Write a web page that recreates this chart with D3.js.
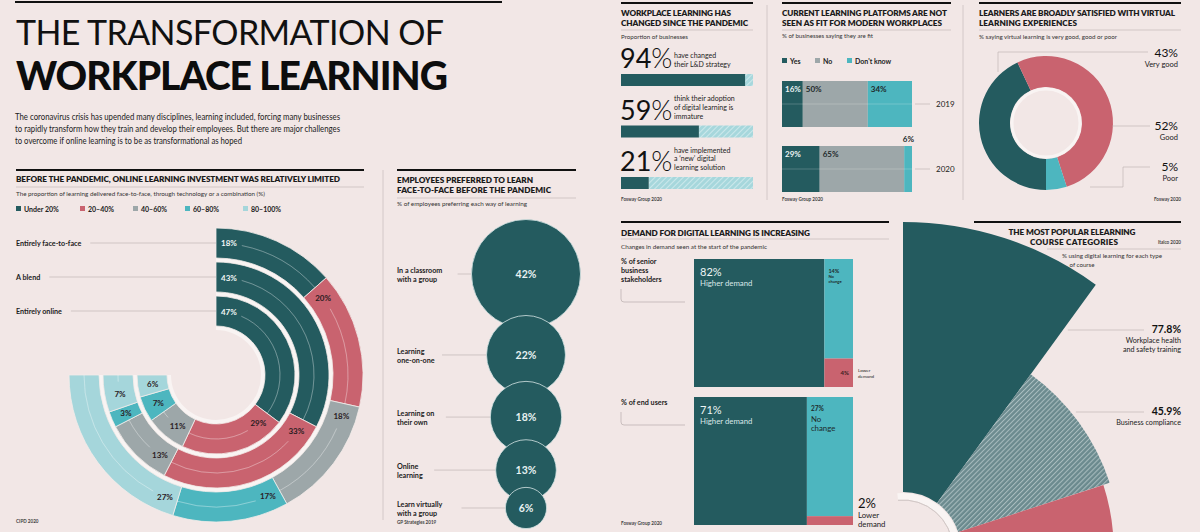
<!DOCTYPE html>
<html>
<head>
<meta charset="utf-8">
<script src="https://cdn.jsdelivr.net/npm/d3@7"></script>
<style>
  body { margin: 0; background: #f2e7e6; }
</style>
</head>
<body>
<div id="chart"></div>
<script>
const ringRows = ["Entirely face-to-face", "A blend", "Entirely online"];
const bandLabels = ["Under 20%", "20–40%", "40–60%", "60–80%", "80–100%"];
const faceToFace = [18, 20, 18, 17, 27];
const blend = [43, 33, 13, 3, 7];
const online = [47, 29, 11, 7, 6];

const prefLabels = [["In a classroom", "with a group"], ["Learning", "one-on-one"], ["Learning on", "their own"], ["Online", "learning"], ["Learn virtually", "with a group"]];
const prefValues = [42, 22, 18, 13, 6];

const changedValues = [94, 59, 21];
const changedTexts = [["have changed", "their L&D strategy"], ["think their adoption", "of digital learning is", "immature"], ["have implemented", "a ‘new’ digital", "learning solution"]];

const fitYears = ["2019", "2020"];
const fitKeys = ["Yes", "No", "Don't know"];
const fitYes = [16, 29];
const fitNo = [50, 65];
const fitDontKnow = [34, 6];

const satLabels = ["Very good", "Good", "Poor"];
const satValues = [43, 52, 5];

const demandGroups = [["% of senior", "business", "stakeholders"], ["% of end users"]];
const higherDemand = [82, 71];
const noChange = [14, 27];
const lowerDemand = [4, 2];

const courseLabels = [["Workplace health", "and safety training"], ["Business compliance"], []];
const courseValues = [77.8, 45.9, 44];

// ---- setup ----
const C = {dark: "#245b5f", pink: "#c9636f", grey: "#9da7a9", teal: "#4db6bf", light: "#a5d6db",
           bg: "#f2e7e6", ink: "#1b1b1b", rule: "#cbc1c0", gap: "#f9f4f3"};
const W = 1200, H = 532;

const svg = d3.select("#chart").append("svg")
    .attr("width", W).attr("height", H)
    .style("font-family", "Lato, 'Open Sans', sans-serif");
svg.append("rect").attr("width", W).attr("height", H).attr("fill", C.bg);

const defs = svg.append("defs");
function hatch(id, base, line, size) {
    const p = defs.append("pattern").attr("id", id)
        .attr("patternUnits", "userSpaceOnUse")
        .attr("width", size).attr("height", size)
        .attr("patternTransform", "rotate(45)");
    p.append("rect").attr("width", size).attr("height", size).attr("fill", base);
    p.append("line").attr("x1", 0.5).attr("y1", 0).attr("x2", 0.5).attr("y2", size)
        .attr("stroke", line).attr("stroke-width", 1.1);
}
hatch("hatchBlue", "#a6d7dc", "#cbe8eb", 4);
hatch("hatchGrey", "#6b8a8e", "#a9bdbf", 3.5);

function txt(x, y, s, o = {}) {
    const t = svg.append("text").attr("x", x).attr("y", y).text(s)
        .attr("font-size", o.size || 8)
        .attr("font-weight", o.weight || 400)
        .attr("fill", o.fill || C.ink)
        .attr("text-anchor", o.anchor || "start");
    if (o.ls) t.attr("letter-spacing", o.ls);
    if (o.len) t.attr("textLength", o.len).attr("lengthAdjust", o.adjust || "spacingAndGlyphs");
    return t;
}
function hline(x1, x2, y, w, col) {
    svg.append("line").attr("x1", x1).attr("x2", x2).attr("y1", y).attr("y2", y)
        .attr("stroke", col || C.ink).attr("stroke-width", w || 1);
}
function vline(x, y1, y2, col) {
    svg.append("line").attr("x1", x).attr("x2", x).attr("y1", y1).attr("y2", y2)
        .attr("stroke", col || C.rule).attr("stroke-width", 0.8);
}
// panel header: thick rule, bold caps title, thin rule, subtitle
function header(x, x2, ruleY, lines, thinY, sub, subY, subLen) {
    hline(x, x2, ruleY, 2.2, "#111");
    lines.forEach(l => txt(x, l.y, l.t, {size: 8.2, weight: 800, len: l.len, adjust: "spacing"}));
    hline(x, x2, thinY, 0.6, "#bdb3b2");
    txt(x, subY, sub, {size: 6.2, fill: "#333", len: subLen});
}
function source(x, y, s, anchor) {
    txt(x, y, s, {size: 4.6, weight: 700, fill: "#444", anchor: anchor || "start"});
}

// ---- main title ----
hline(15, 502, 2, 2.2, "#111");
txt(16, 45, "THE TRANSFORMATION OF", {size: 34, weight: 400, len: 428, adjust: "spacing", fill: "#111"});
txt(16, 90, "WORKPLACE LEARNING", {size: 39, weight: 900, len: 432, adjust: "spacing", fill: "#0d0d0d"});
txt(15, 120, "The coronavirus crisis has upended many disciplines, learning included, forcing many businesses", {size: 9.4, len: 325, fill: "#222"});
txt(15, 132, "to rapidly transform how they train and develop their employees. But there are major challenges", {size: 9.4, len: 325, fill: "#222"});
txt(15, 144, "to overcome if online learning is to be as transformational as hoped", {size: 9.4, len: 227, fill: "#222"});

// ---- panel 1: radial bars ----
header(16, 364, 170,
    [{t: "BEFORE THE PANDEMIC, ONLINE LEARNING INVESTMENT WAS RELATIVELY LIMITED", y: 182, len: 324}],
    187, "The proportion of learning delivered face-to-face, through technology or a combination (%)", 196, 249);

const bandColor = d3.scaleOrdinal().domain(bandLabels).range([C.dark, C.pink, C.grey, C.teal, C.light]);
bandLabels.forEach((b, i) => {
    const lx = [16, 80, 133, 185, 243][i];
    svg.append("rect").attr("x", lx).attr("y", 206).attr("width", 5).attr("height", 5).attr("fill", bandColor(b));
    txt(lx + 8, 211.5, b, {size: 7, weight: 700, fill: "#222"});
});

const cxR = 216, cyR = 375;
const gRad = svg.append("g").attr("transform", `translate(${cxR},${cyR})`);
const ringData = [faceToFace, blend, online];
const ringBand = d3.scaleBand().domain(ringRows.slice().reverse()).range([49, 147]).paddingInner(4 / 34);
const arcGen = d3.arc();

ringRows.forEach((row, i) => {
    const vals = ringData[i];
    const r0 = ringBand(row), r1 = r0 + ringBand.bandwidth(), rm = (r0 + r1) / 2;
    const ang = d3.scaleLinear().domain([0, d3.sum(vals)]).range([0, 1.5 * Math.PI]);
    let acc = 0;
    const segs = vals.map((v, j) => {
        const s = {v, band: bandLabels[j], a0: ang(acc), a1: ang(acc + v)};
        acc += v;
        return s;
    });
    // light gap inside this ring
    gRad.append("path")
        .attr("d", arcGen({innerRadius: r0 - 4, outerRadius: r0, startAngle: 0, endAngle: 1.5 * Math.PI}))
        .attr("fill", C.gap);
    gRad.selectAll(null).data(segs).join("path")
        .attr("d", d => arcGen({innerRadius: r0, outerRadius: r1, startAngle: d.a0, endAngle: d.a1}))
        .attr("fill", d => bandColor(d.band))
        .attr("stroke", "#f3ecea").attr("stroke-width", 0.8);
    // faint mid line
    gRad.selectAll(null).data(segs).join("path")
        .attr("d", d => d3.arc()({innerRadius: rm, outerRadius: rm,
            startAngle: Math.min(d.a0 + 26 / rm, d.a1), endAngle: d.a1}))
        .attr("fill", "none").attr("stroke", "#ffffff").attr("stroke-opacity", 0.28).attr("stroke-width", 0.7);
    gRad.selectAll(null).data(segs).join("text")
        .attr("x", d => rm * Math.sin(Math.min(d.a0 + 13 / rm, (d.a0 + d.a1) / 2)))
        .attr("y", d => -rm * Math.cos(Math.min(d.a0 + 13 / rm, (d.a0 + d.a1) / 2)))
        .attr("dy", "0.35em").attr("text-anchor", "middle")
        .attr("font-size", 8).attr("font-weight", 700)
        .attr("fill", d => d.band === bandLabels[0] ? "#f1f6f6" : "#2a1c1f")
        .text(d => d.v + "%");
    // row label + leader line
    const lab = txt(16, cyR - rm + 3, row, {size: 7.2, weight: 700, fill: "#222"});
    const lw = lab.node().getComputedTextLength();
    hline(16 + lw + 9, cxR, cyR - rm, 0.6, "#b9aeae");
});
source(16, 523, "CIPD 2020");

vline(383, 170, 520);

// ---- panel 2: bubbles ----
header(397, 576, 170,
    [{t: "EMPLOYEES PREFERRED TO LEARN", y: 183, len: 136}, {t: "FACE-TO-FACE BEFORE THE PANDEMIC", y: 193, len: 154}],
    198, "% of employees preferring each way of learning", 206, 130);

const rScale = d3.scaleSqrt().domain([0, d3.max(prefValues)]).range([0, 54.5]);
const bubbleX = 526, overlap = 13;
let yc = 274;
const bubbles = prefValues.map((v, i) => {
    if (i > 0) yc += rScale(prefValues[i - 1]) + rScale(v) - overlap;
    return {v, label: prefLabels[i], cy: yc, r: rScale(v)};
});
bubbles.forEach(b => {
    b.label.forEach((l, k) => txt(397, b.cy - 1 + k * 9, l, {size: 7.2, weight: 700, fill: "#222"}));
    const w = d3.max(b.label, l => l.length) * 3.9;
    hline(397 + w + 6, bubbleX - b.r, b.cy, 0.6, "#b9aeae");
});
svg.selectAll(null).data(bubbles).join("circle")
    .attr("cx", bubbleX).attr("cy", d => d.cy).attr("r", d => d.r)
    .attr("fill", C.dark).attr("stroke", "#d6e4e4").attr("stroke-width", 0.8);
svg.selectAll(null).data(bubbles).join("text")
    .attr("x", bubbleX).attr("y", d => d.cy).attr("dy", "0.35em")
    .attr("text-anchor", "middle").attr("font-size", 10.5).attr("font-weight", 700)
    .attr("fill", "#e8f2f2").text(d => d.v + "%");
source(397, 524, "GP Strategies 2019");

// ---- panel 3: changed since pandemic ----
header(621, 753, 3,
    [{t: "WORKPLACE LEARNING HAS", y: 16, len: 110}, {t: "CHANGED SINCE THE PANDEMIC", y: 26, len: 127}],
    30, "Proportion of businesses", 39, 67);

const xChg = d3.scaleLinear().domain([0, 100]).range([621, 753]);
const yChg = d3.scalePoint().domain(d3.range(changedValues.length)).range([74, 177]);
changedValues.forEach((v, i) => {
    const by = yChg(i);
    const big = svg.append("text").attr("x", 620).attr("y", by - 6)
        .attr("font-size", 27).attr("font-weight", 400).attr("fill", "#111");
    big.append("tspan").text(v);
    big.append("tspan").attr("font-weight", 300).text("%");
    const lines = changedTexts[i];
    lines.forEach((l, k) => txt(674, by - 7 - (lines.length - 1 - k) * 8.6, l, {size: 7, fill: "#222"}));
    svg.append("rect").attr("x", xChg(v)).attr("y", by).attr("width", xChg(100) - xChg(v)).attr("height", 12)
        .attr("fill", "url(#hatchBlue)");
    svg.append("rect").attr("x", xChg(0)).attr("y", by).attr("width", xChg(v) - xChg(0)).attr("height", 12)
        .attr("fill", C.dark);
});
source(621, 201, "Fosway Group 2020");
vline(767, 5, 200);

// ---- panel 4: platforms fit ----
header(782, 951, 3,
    [{t: "CURRENT LEARNING PLATFORMS ARE NOT", y: 16, len: 165}, {t: "SEEN AS FIT FOR MODERN WORKPLACES", y: 26, len: 160}],
    30, "% of businesses saying they are fit", 38, 91);

const fitColor = d3.scaleOrdinal().domain(fitKeys).range([C.dark, C.grey, C.teal]);
fitKeys.forEach((k, i) => {
    const lx = [782, 815, 847][i];
    svg.append("rect").attr("x", lx).attr("y", 58).attr("width", 5).attr("height", 5).attr("fill", fitColor(k));
    txt(lx + 8, 63.5, k, {size: 7, weight: 700, fill: "#222"});
});
const fitRows = fitYears.map((y, i) => ({year: y, "Yes": fitYes[i], "No": fitNo[i], "Don't know": fitDontKnow[i]}));
const stack = d3.stack().keys(fitKeys)(fitRows);
const xFit = d3.scaleLinear().domain([0, 100]).range([782, 912]);
const yFit = d3.scaleBand().domain(fitYears).range([81, 192]).paddingInner(19 / 65);
stack.forEach(layer => {
    layer.forEach(seg => {
        const y0 = yFit(seg.data.year), w = xFit(seg[1]) - xFit(seg[0]);
        svg.append("rect").attr("x", xFit(seg[0])).attr("y", y0).attr("width", w)
            .attr("height", yFit.bandwidth()).attr("fill", fitColor(layer.key));
        const v = seg[1] - seg[0];
        const lc = layer.key === "Yes" ? "#eef5f5" : "#1e2a2b";
        if (w > 18) txt(xFit(seg[0]) + 3, y0 + 11, v + "%", {size: 8, weight: 700, fill: lc});
        else txt(xFit(seg[1]) + 2, y0 - 4, v + "%", {size: 8, weight: 700, anchor: "end", fill: "#1e2a2b"});
    });
});
fitYears.forEach(y => {
    const my = yFit(y) + yFit.bandwidth() / 2;
    hline(xFit(0), xFit(100), my, 0.6, "rgba(255,255,255,0.35)");
    hline(xFit(100) + 3, 930, my, 0.6, "#b9aeae");
    txt(936, my + 3, y, {size: 8, fill: "#222"});
});
source(782, 201, "Fosway Group 2020");
vline(963, 5, 200);

// ---- panel 5: donut ----
header(979, 1181, 3,
    [{t: "LEARNERS ARE BROADLY SATISFIED WITH VIRTUAL", y: 16, len: 196}, {t: "LEARNING EXPERIENCES", y: 26, len: 98}],
    30, "% saying virtual learning is very good, good or poor", 39, 138);

const satColor = d3.scaleOrdinal().domain(satLabels).range([C.dark, C.pink, C.teal]);
const pie = d3.pie().sort(null).value(d => d.v).startAngle(Math.PI).endAngle(3 * Math.PI);
const gDon = svg.append("g").attr("transform", "translate(1046,123)");
gDon.selectAll(null).data(pie(satValues.map((v, i) => ({v, k: satLabels[i]})))).join("path")
    .attr("d", d3.arc().innerRadius(36).outerRadius(67))
    .attr("fill", d => satColor(d.data.k));
gDon.append("circle").attr("r", 34).attr("fill", "none").attr("stroke", C.gap).attr("stroke-width", 3);
gDon.append("circle").attr("r", 32).attr("fill", C.bg);

const donutLabelY = [57, 130, 171];
satLabels.forEach((k, i) => {
    txt(1178, donutLabelY[i], satValues[i] + "%", {size: 12, anchor: "end", fill: "#111"});
    txt(1178, donutLabelY[i] + 10, k, {size: 7.5, anchor: "end", fill: "#222"});
});
const leader = [[[998, 72], [998, 52], [1148, 52]], [[1112, 126], [1150, 126]], [[1090, 187], [1123, 187], [1123, 167], [1150, 167]]];
leader.forEach(p => svg.append("path").attr("d", d3.line()(p)).attr("fill", "none").attr("stroke", "#b9aeae").attr("stroke-width", 0.6));
source(1181, 201, "Fosway 2020", "end");

// ---- panel 6: demand ----
header(621, 889, 222,
    [{t: "DEMAND FOR DIGITAL LEARNING IS INCREASING", y: 236, len: 189}],
    239, "Changes in demand seen at the start of the pandemic", 249, 146);

const xDem = d3.scaleLinear().domain([0, 100]).range([694, 853]);
const yDem = d3.scaleBand().domain(d3.range(demandGroups.length)).range([259, 525]).paddingInner(10 / 138);
demandGroups.forEach((lab, i) => {
    const y0 = yDem(i), h = yDem.bandwidth();
    const hi = higherDemand[i], nc = noChange[i], lo = lowerDemand[i];
    const xs = xDem(hi), xe = xDem(hi + nc + lo);
    const colY = d3.scaleLinear().domain([0, nc + lo]).range([y0, y0 + h]);
    svg.append("rect").attr("x", xDem(0)).attr("y", y0).attr("width", xs - xDem(0)).attr("height", h).attr("fill", C.dark);
    svg.append("rect").attr("x", xs).attr("y", y0).attr("width", xe - xs).attr("height", colY(nc) - y0).attr("fill", C.teal);
    svg.append("rect").attr("x", xs).attr("y", colY(nc)).attr("width", xe - xs).attr("height", y0 + h - colY(nc)).attr("fill", C.pink);

    txt(xDem(0) + 6, y0 + 17, hi + "%", {size: 11, fill: "#eef5f5"});
    txt(xDem(0) + 6, y0 + 27, "Higher demand", {size: 7.8, fill: "#d9e8e8"});

    if (xe - xs < 35) {
        txt(xs + 4, y0 + 14, nc + "%", {size: 5.5, weight: 700, fill: "#1e2a2b"});
        txt(xs + 4, y0 + 19, "No", {size: 4.2, weight: 700, fill: "#1e2a2b"});
        txt(xs + 4, y0 + 24, "change", {size: 4.2, weight: 700, fill: "#1e2a2b"});
    } else {
        txt(xs + 4, y0 + 14, nc + "%", {size: 6.5, weight: 700, fill: "#1e2a2b"});
        txt(xs + 4, y0 + 25, "No", {size: 7.8, fill: "#1e2a2b"});
        txt(xs + 4, y0 + 34, "change", {size: 7.8, fill: "#1e2a2b"});
    }
    const pinkH = y0 + h - colY(nc), pinkMid = colY(nc) + pinkH / 2;
    if (pinkH > 15) {
        txt(xe - 4, pinkMid + 2, lo + "%", {size: 6, weight: 700, anchor: "end", fill: "#3a1d22"});
        txt(xe + 5, pinkMid - 1, "Lower", {size: 4.6, fill: "#222"});
        txt(xe + 5, pinkMid + 5, "demand", {size: 4.6, fill: "#222"});
    } else {
        txt(xe + 5, y0 + h - 17, lo + "%", {size: 13, fill: "#111"});
        txt(xe + 5, y0 + h - 7, "Lower", {size: 7.8, fill: "#222"});
        txt(xe + 5, y0 + h + 2, "demand", {size: 7.8, fill: "#222"});
    }
    // group label with bracket
    const first = y0 + (lab.length > 1 ? 5 : 8);
    lab.forEach((l, k) => txt(621, first + k * 9, l, {size: 7.2, weight: 700, fill: "#222"}));
    const last = first + (lab.length - 1) * 9;
    svg.append("path")
        .attr("d", `M621,${last + 7} V${last + 17} Q621,${last + 20} 624,${last + 20} H685`)
        .attr("fill", "none").attr("stroke", "#b9aeae").attr("stroke-width", 0.7);
});
source(621, 525, "Fosway Group 2020");

// ---- panel 7: polar wedges ----
const pcx = 903, pcy = 550, rIn = 58;
const rPol = d3.scaleLinear().domain([0, d3.max(courseValues)]).range([rIn, 328]);
const wedge = Math.PI / 5;
const courseFill = [C.dark, "url(#hatchGrey)", C.pink];
const gPol = svg.append("g").attr("transform", `translate(${pcx},${pcy})`);
gPol.selectAll(null).data(courseValues).join("path")
    .attr("d", (v, i) => d3.arc()({innerRadius: rIn, outerRadius: rPol(v), startAngle: i * wedge, endAngle: (i + 1) * wedge}))
    .attr("fill", (v, i) => courseFill[i]);
gPol.append("path")
    .attr("d", d3.arc()({innerRadius: 50, outerRadius: rIn - 1, startAngle: -0.1, endAngle: Math.PI}))
    .attr("fill", C.gap);
gPol.append("path")
    .attr("d", d3.arc()({innerRadius: 50, outerRadius: 50, startAngle: -0.1, endAngle: Math.PI}))
    .attr("fill", "none").attr("stroke", "#cfc4c3").attr("stroke-width", 0.7);

hline(974, 1181, 222, 2.2, "#111");
txt(1072, 235, "THE MOST POPULAR ELEARNING", {size: 8.2, weight: 800, anchor: "middle", len: 127, adjust: "spacing"});
txt(1074, 245, "COURSE CATEGORIES", {size: 8.2, weight: 800, anchor: "middle", len: 88, adjust: "spacing"});
source(1181, 244, "Itaico 2020", "end");
hline(1047, 1181, 249, 0.6, "#bdb3b2");
txt(1112, 258, "% using digital learning for each type", {size: 6.2, anchor: "middle", fill: "#333", len: 100});
txt(1082, 267, "of course", {size: 6.2, anchor: "middle", fill: "#333"});

const courseLabelY = [330, 412];
courseLabelY.forEach((ly, i) => {
    const dy = pcy - ly, r = rPol(courseValues[i]);
    const xr = dy * Math.tan((i + 1) * wedge), xa = Math.sqrt(Math.max(0, r * r - dy * dy));
    hline(pcx + Math.min(xr, xa) + 5, 1144, ly, 0.6, "#b9aeae");
    txt(1181, ly + 3, courseValues[i].toFixed(1) + "%", {size: 10.5, weight: 700, anchor: "end", fill: "#111"});
    courseLabels[i].forEach((l, k) => txt(1181, ly + 13 + k * 9, l, {size: 7.2, anchor: "end", fill: "#222"}));
});
</script>
</body>
</html>
